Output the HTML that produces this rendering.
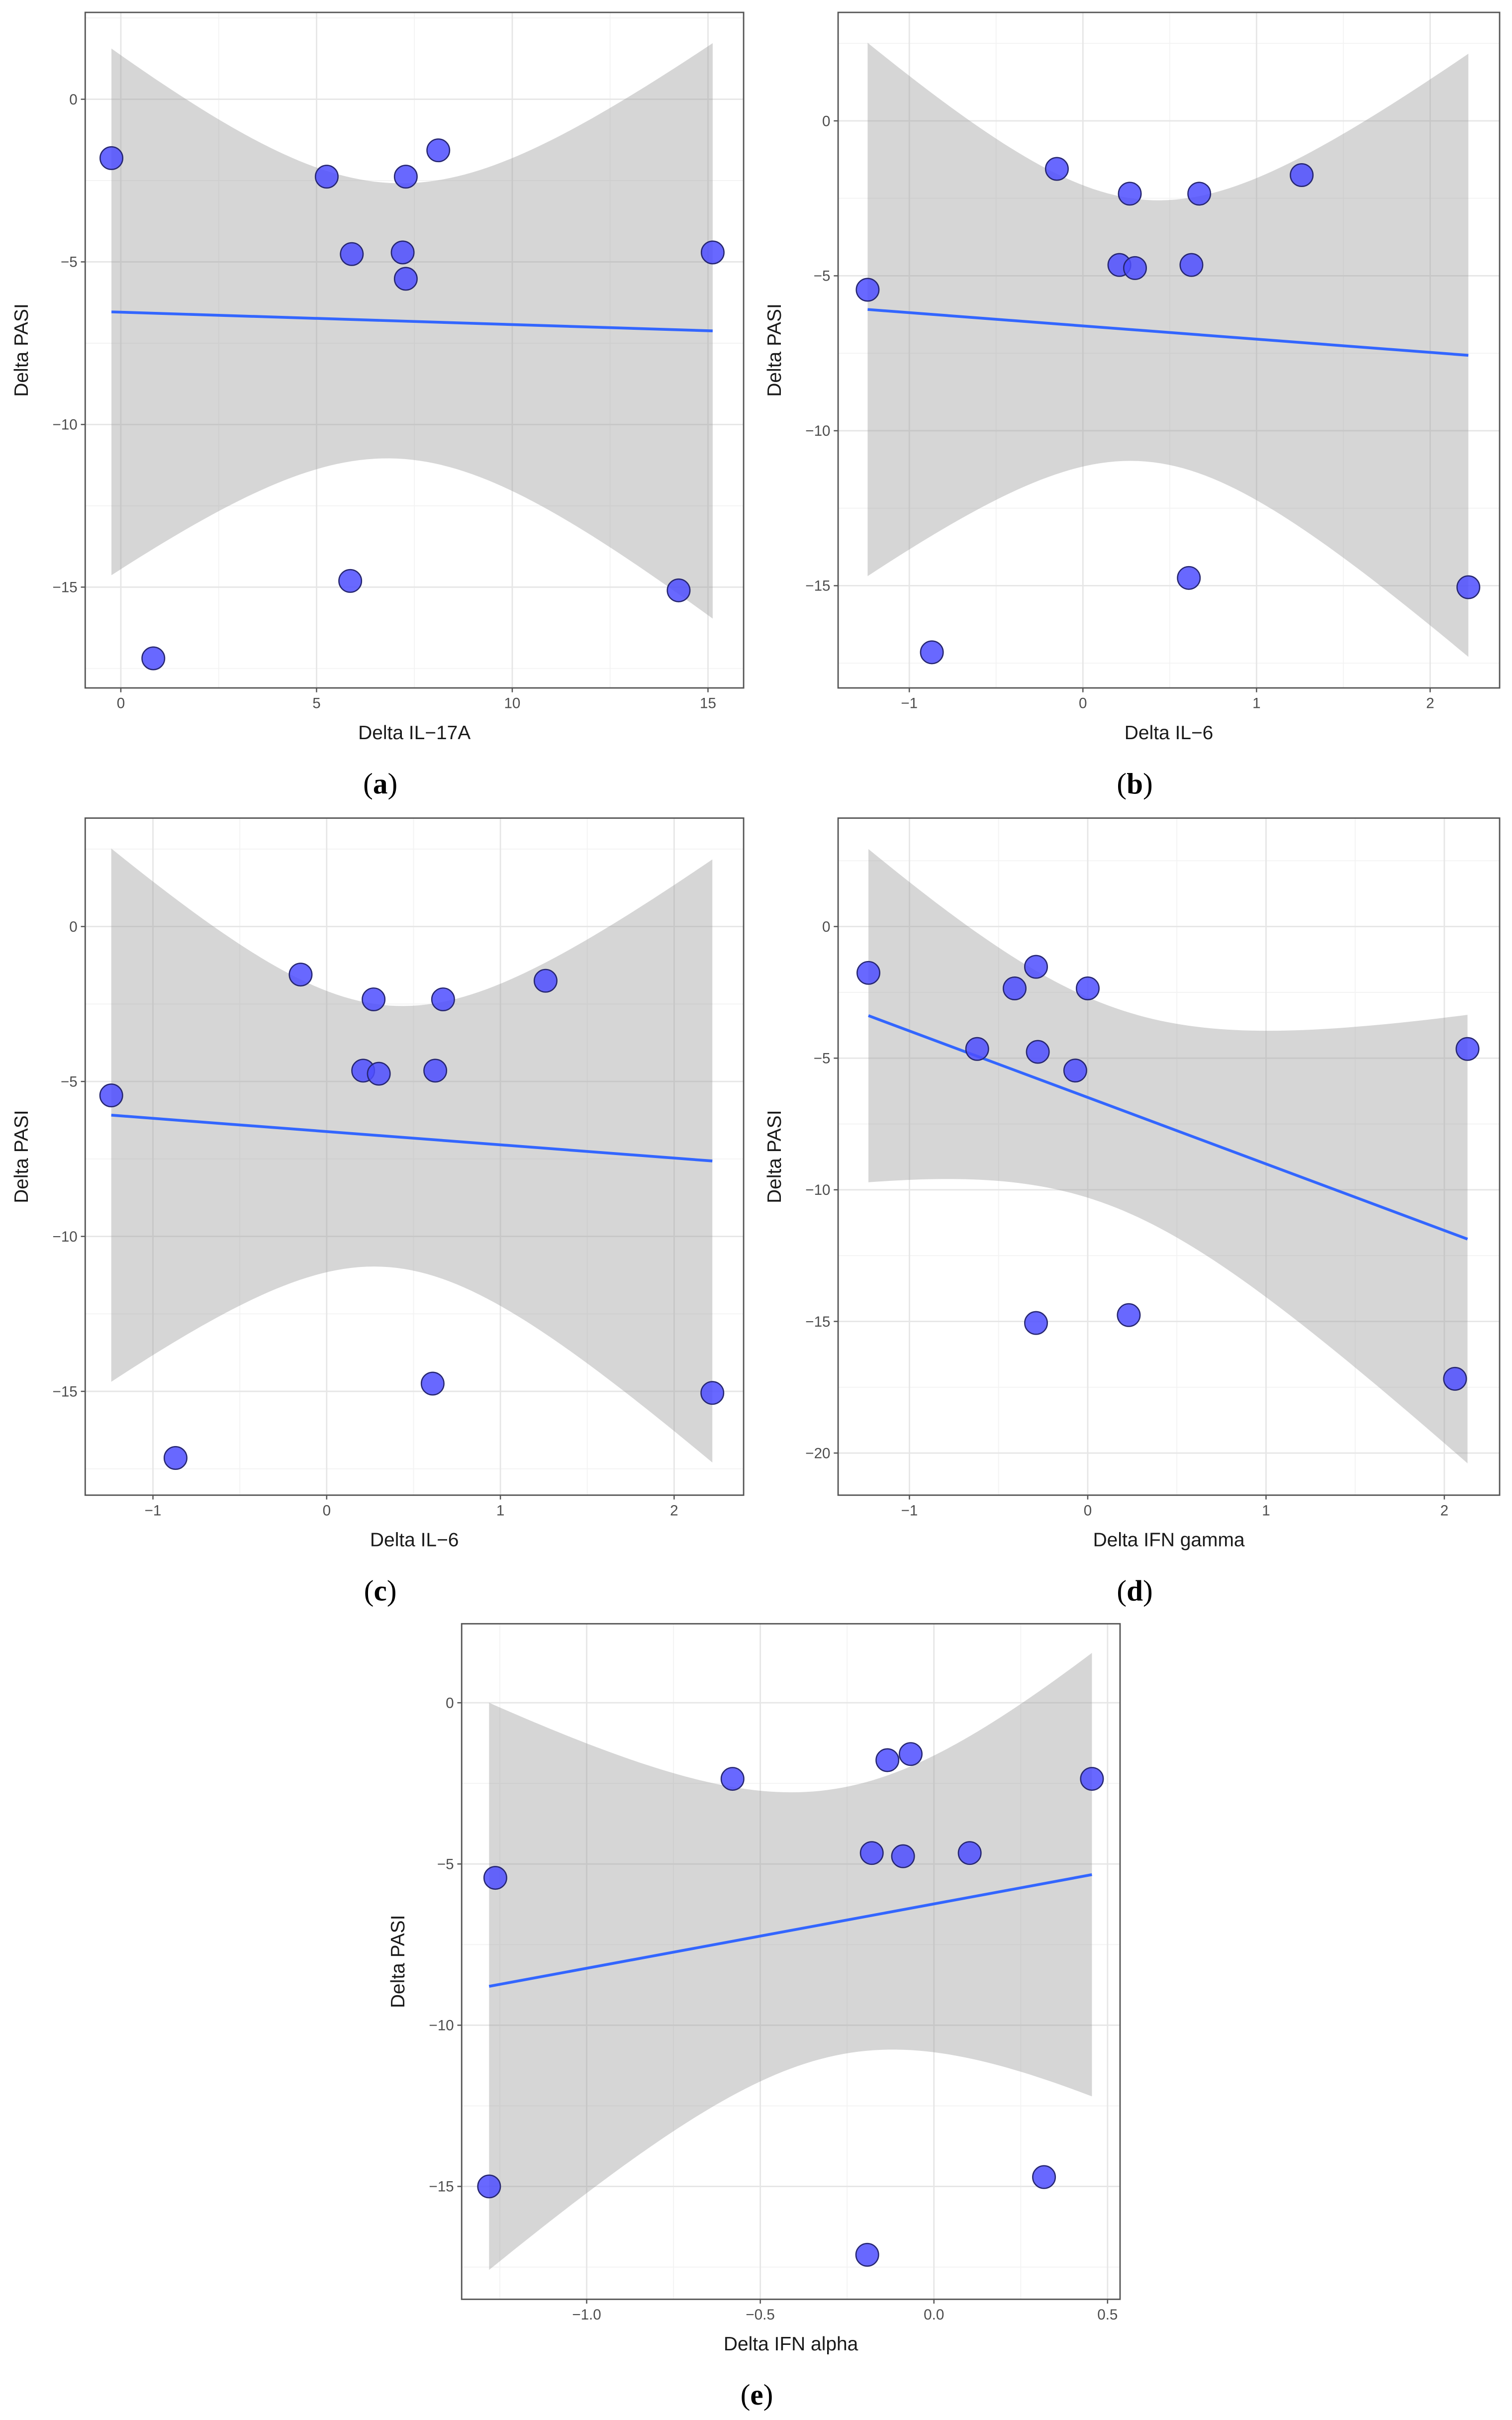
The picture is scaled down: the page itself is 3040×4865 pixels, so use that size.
<!DOCTYPE html>
<html><head><meta charset="utf-8">
<style>
html,body{margin:0;padding:0;background:#fff;}
svg{display:block;}
text{font-family:"Liberation Sans",sans-serif;}
</style></head>
<body>
<svg id="fig" xmlns="http://www.w3.org/2000/svg" width="3040" height="4865" viewBox="0 0 976 1561.9">
<rect x="0" y="0" width="976" height="1561.9" fill="#fff"/>
</svg>
<script>
// ---------- data ----------
const aX = [-0.24, 0.83, 5.26, 5.90, 5.86, 7.28, 7.20, 7.28, 8.11, 14.25, 15.12];
const aY = [-1.81, -17.19, -2.38, -4.76, -14.81, -2.38, -4.71, -5.52, -1.57, -15.10, -4.71];
const bX = [-1.24, -0.87, -0.15, 0.27, 0.21, 0.30, 0.625, 0.61, 0.67, 1.26, 2.22];
const bY = [-5.45, -17.15, -1.55, -2.35, -4.65, -4.75, -4.65, -14.75, -2.35, -1.75, -15.05];
const cX = [-1.24, -0.87, -0.15, 0.27, 0.21, 0.30, 0.625, 0.61, 0.67, 1.26, 2.22];
const cY = [-5.45, -17.15, -1.55, -2.35, -4.65, -4.75, -4.65, -14.75, -2.35, -1.75, -15.05];
const dX = [-1.23, -0.62, -0.41, -0.29, -0.28, -0.07, 0.00, -0.29, 0.23, 2.06, 2.13];
const dY = [-1.76, -4.65, -2.35, -1.53, -4.76, -5.47, -2.35, -15.06, -14.76, -17.18, -4.65];
const eX = [-1.263, -1.281, -0.58, -0.134, -0.067, -0.179, -0.089, 0.103, -0.192, 0.317, 0.455];
const eY = [-5.43, -15.00, -2.36, -1.78, -1.59, -4.66, -4.76, -4.66, -17.12, -14.71, -2.36];

const aXTicks = [0, 5, 10, 15];
const bXTicks = [-1, 0, 1, 2];
const cXTicks = [-1, 0, 1, 2];
const dXTicks = [-1, 0, 1, 2];
const eXTicks = [-1.0, -0.5, 0.0, 0.5];
const aYTicks = [0, -5, -10, -15];
const bYTicks = [0, -5, -10, -15];
const cYTicks = [0, -5, -10, -15];
const dYTicks = [0, -5, -10, -15, -20];
const eYTicks = [0, -5, -10, -15];
const eXTickLabels = ["\u22121.0", "\u22120.5", "0.0", "0.5"];

const xTitles = ["Delta IL\u221217A", "Delta IL\u22126", "Delta IL\u22126", "Delta IFN gamma", "Delta IFN alpha"];
const panelLetters = ["a", "b", "c", "d", "e"];

// ---------- layout ----------
const NS = "http://www.w3.org/2000/svg";
const svg = document.getElementById("fig");
function mk(tag, attrs, parent) {
  const el = document.createElementNS(NS, tag);
  for (const k in attrs) el.setAttribute(k, attrs[k]);
  (parent || svg).appendChild(el);
  return el;
}
function fmt(v) { return (v < 0 ? "\u2212" : "") + Math.abs(v); }

const panels = [
  {name:"a", X:aX, Y:aY, xt:aXTicks, yt:aYTicks, box:[55,8,480,444], xd:[-0.91,15.91], yd:[2.67,-18.1], xl:null},
  {name:"b", X:bX, Y:bY, xt:bXTicks, yt:bYTicks, box:[541,8,968,444], xd:[-1.41,2.40], yd:[3.5,-18.3], xl:null},
  {name:"c", X:cX, Y:cY, xt:cXTicks, yt:cYTicks, box:[55,528,480,965], xd:[-1.39,2.40], yd:[3.5,-18.35], xl:null},
  {name:"d", X:dX, Y:dY, xt:dXTicks, yt:dYTicks, box:[541,528,968,965], xd:[-1.40,2.31], yd:[4.12,-21.6], xl:null},
  {name:"e", X:eX, Y:eY, xt:eXTicks, yt:eYTicks, box:[298,1048,723,1484], xd:[-1.36,0.536], yd:[2.45,-18.5], xl:eXTickLabels}
];

panels.forEach((p, pi) => {
  const [L,T,R,B] = p.box;
  const g = mk("g", {});
  
  
  const sx = v => L + (v - p.xd[0]) / (p.xd[1] - p.xd[0]) * (R - L);
  const sy = v => T + (v - p.yd[0]) / (p.yd[1] - p.yd[0]) * (B - T);

  const xstep = p.xt[1] - p.xt[0], ystep = p.yt[0] - p.yt[1];
  for (let v = p.xt[0] - xstep * 1.5; v <= p.xd[1]; v += xstep) {
    if (v < p.xd[0]) continue;
    const l = mk("line", {x1:sx(v), x2:sx(v), y1:T, y2:B, stroke:"#f3f3f3", "stroke-width":0.6}, g);
    
    
  }
  for (let v = p.yt[0] + ystep * 1.5; v >= p.yd[1]; v -= ystep) {
    if (v > p.yd[0]) continue;
    const l = mk("line", {x1:L, x2:R, y1:sy(v), y2:sy(v), stroke:"#f3f3f3", "stroke-width":0.6}, g);
    
    
  }
  p.xt.forEach(v => {
    const l = mk("line", {x1:sx(v), x2:sx(v), y1:T, y2:B, stroke:"#e6e6e6", "stroke-width":0.9}, g);
    
    
  });
  p.yt.forEach(v => {
    const l = mk("line", {x1:L, x2:R, y1:sy(v), y2:sy(v), stroke:"#e6e6e6", "stroke-width":0.9}, g);
    
    
  });

  const n = p.X.length;
  const mx = p.X.reduce((a,b)=>a+b,0)/n, my = p.Y.reduce((a,b)=>a+b,0)/n;
  let sxx = 0, sxy = 0;
  for (let i=0;i<n;i++){ sxx += (p.X[i]-mx)**2; sxy += (p.X[i]-mx)*(p.Y[i]-my); }
  const b1 = sxy/sxx, b0 = my - b1*mx;
  let sse = 0;
  for (let i=0;i<n;i++){ sse += (p.Y[i]-b0-b1*p.X[i])**2; }
  const s = Math.sqrt(sse/(n-2)), tval = 2.262;
  const xmin = Math.min(...p.X), xmax = Math.max(...p.X);
  const up = [], lo = [];
  for (let k=0;k<=80;k++){
    const x = xmin + (xmax-xmin)*k/80;
    const yh = b0 + b1*x;
    const hw = tval*s*Math.sqrt(1/n + (x-mx)**2/sxx);
    up.push(sx(x).toFixed(2)+","+sy(yh+hw).toFixed(2));
    lo.unshift(sx(x).toFixed(2)+","+sy(yh-hw).toFixed(2));
  }
  const band = mk("polygon", {points: up.concat(lo).join(" "), fill:"#999999", "fill-opacity":0.4}, g);
  
  
  const fit = mk("line", {x1:sx(xmin), y1:sy(b0+b1*xmin), x2:sx(xmax), y2:sy(b0+b1*xmax), stroke:"#3366FF", "stroke-width":1.8}, g);
  
  

  for (let i=0;i<n;i++){
    const c = mk("circle", {cx:sx(p.X[i]), cy:sy(p.Y[i]), r:7.3, fill:"#4d4dff", "fill-opacity":0.85, stroke:"#262670", "stroke-width":0.8}, g);
    
    
  }

  const bx = mk("rect", {x:L, y:T, width:R-L, height:B-T, fill:"none", stroke:"#555", "stroke-width":0.9}, g);
  
  

  p.xt.forEach((v, i) => {
    const t = mk("line", {x1:sx(v), x2:sx(v), y1:B, y2:B+2.8, stroke:"#555", "stroke-width":0.8}, g);
    
    
    const tx = mk("text", {x:sx(v), y:B+13, "text-anchor":"middle", "font-size":9.5, fill:"#4d4d4d"}, g);
    tx.textContent = p.xl ? p.xl[i] : fmt(v);
    
    
  });
  p.yt.forEach(v => {
    const t = mk("line", {x1:L-2.8, x2:L, y1:sy(v), y2:sy(v), stroke:"#555", "stroke-width":0.8}, g);
    
    
    const ty = mk("text", {x:L-5, y:sy(v)+3.3, "text-anchor":"end", "font-size":9.5, fill:"#4d4d4d"}, g);
    ty.textContent = fmt(v);
    
    
  });

  const xtT = mk("text", {x:(L+R)/2, y:B+33, "text-anchor":"middle", "font-size":12.5, fill:"#1a1a1a"}, g);
  xtT.textContent = xTitles[pi];
  
  
  const yx = L - 37, yy = (T+B)/2;
  const ytT = mk("text", {x:yx, y:yy, "text-anchor":"middle", "font-size":12.5, fill:"#1a1a1a", transform:`rotate(-90 ${yx} ${yy})`}, g);
  ytT.textContent = "Delta PASI";
  
  

  const pl = mk("text", {x:(L+R)/2 - 22, y:B+68, "text-anchor":"middle", "font-size":19, fill:"#000", style:"font-family:'Liberation Serif',serif"}, g);
  
  
  const o = mk("tspan", {}, pl); o.textContent = "(";
  const m = mk("tspan", {"font-weight":"bold"}, pl); m.textContent = panelLetters[pi];
  const c2 = mk("tspan", {}, pl); c2.textContent = ")";
});
</script>
</body></html>
